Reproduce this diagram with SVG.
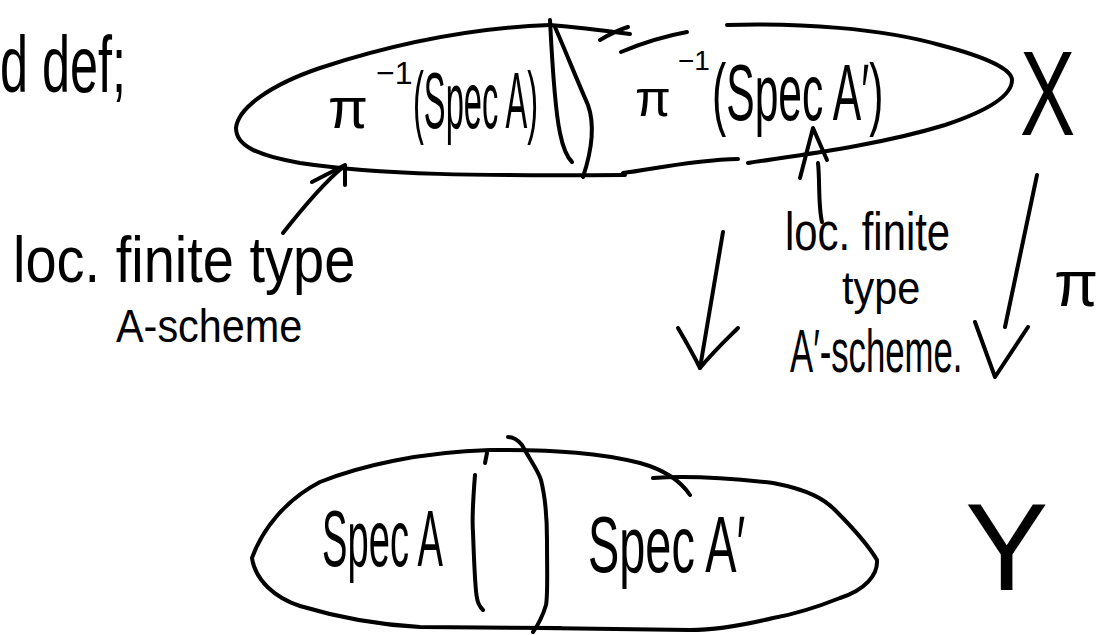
<svg xmlns="http://www.w3.org/2000/svg" width="1107" height="635" viewBox="0 0 1107 635">
<style>
.s{fill:none;stroke:#000;stroke-width:4;stroke-linecap:round;stroke-linejoin:round}
.t{font-family:"Liberation Sans",Arial,sans-serif;fill:#000}
</style>
<rect width="1107" height="635" fill="#fff"/>
<g id="title">
<text class="t" font-size="80" transform="translate(0,92) scale(0.63,1)">d def;</text>
</g>
<g id="top-ellipse">
<path class="s" d="M550,25 C470,28 390,45 320,68 C270,85 238,108 236,128 C236,145 255,155 300,163 C380,175 480,176 625,175"/>
<path class="s" d="M550,25 C575,27 600,30 630,34"/>
<path class="s" d="M600,40 C610,34 618,30 628,27"/>
<path class="s" d="M621,52 C640,44 665,36 687,32"/>
<path class="s" d="M727,25 C800,23 880,28 940,45 C990,58 1012,70 1012,80 C1012,95 990,110 945,125 C880,145 800,155 748,163"/>
<path class="s" d="M623,173 C650,170 690,160 738,159"/>
<path class="s" d="M550,20 C552,60 555,110 560,133 C563,148 568,158 572,162"/>
<path class="s" d="M555,27 C565,50 577,80 588,105 C595,125 592,150 583,177"/>
<text class="t" x="328" y="128" font-size="58">π<tspan dx="8" dy="-44" font-size="32">−1</tspan></text>
<text class="t" font-size="80" transform="translate(413,128) scale(0.408,1)">(Spec A)</text>
<text class="t" x="635" y="116" font-size="52">π<tspan dx="7" dy="-46" font-size="28">−1</tspan></text>
<text class="t" font-size="80" transform="translate(712,120) scale(0.533,1)">(Spec A′)</text>
</g>
<g id="X">
<text class="t" font-size="120" transform="translate(1020,135) scale(0.69,1)">X</text>
</g>
<g id="bottom-ellipse">
<path class="s" d="M690,495 C680,480 665,470 640,463 C600,453 560,450 490,450 C420,452 360,466 320,482 C285,500 262,530 252,558 C255,580 275,598 300,606 C340,618 380,625 420,627 L560,628"/>
<path class="s" d="M653,478 C680,476 720,477 773,483 C810,490 825,500 835,510 C855,530 870,548 877,560 C878,575 865,590 840,598 C810,610 790,615 773,618 C740,626 710,630 690,630 L540,628"/>
<path class="s" d="M487,453 L485,463"/>
<path class="s" d="M475,475 C473,500 472,520 473,532 C474,560 475,590 477,598 C478,605 481,608 483,610"/>
<path class="s" d="M508,437 C513,437 518,440 522,445 C530,460 538,470 541,480 C546,500 547,520 547,540 C547,570 548,595 546,605 C543,615 538,625 533,632"/>
<text class="t" font-size="80" transform="translate(322,566) scale(0.477,1)">Spec A</text>
<text class="t" font-size="80" transform="translate(588,572) scale(0.586,1)">Spec A′</text>
</g>
<g id="Y">
<text class="t" x="965" y="590" font-size="125">Y</text>
</g>
<g id="label-left">
<text class="t" font-size="64" transform="translate(13,282) scale(0.875,1)">loc. finite type</text>
<text class="t" font-size="46" transform="translate(116,342) scale(0.9,1)">A-scheme</text>
</g>
<g id="label-right">
<text class="t" font-size="54" transform="translate(785,250) scale(0.775,1)">loc. finite</text>
<text class="t" font-size="46" transform="translate(842,304) scale(0.9,1)">type</text>
<text class="t" font-size="62" transform="translate(790,372) scale(0.56,1)">A′-scheme.</text>
</g>
<g id="label-pi">
<text class="t" x="1054" y="306" font-size="64">π</text>
</g>
<g id="connectors">
<path class="s" d="M283,233 C305,205 325,182 343,167"/>
<path class="s" d="M312,182 L345,165 L345,185"/>
<path class="s" d="M822,222 C818,205 820,180 818,163"/>
<path class="s" d="M800,178 L813,128 L827,160"/>
<path class="s" d="M723,232 L700,368"/>
<path class="s" d="M678,328 C688,345 695,358 700,368 C715,350 728,338 738,328"/>
<path class="s" d="M1037,175 L1005,327"/>
<path class="s" d="M975,322 L995,377 L1028,327"/>
</g>
</svg>
